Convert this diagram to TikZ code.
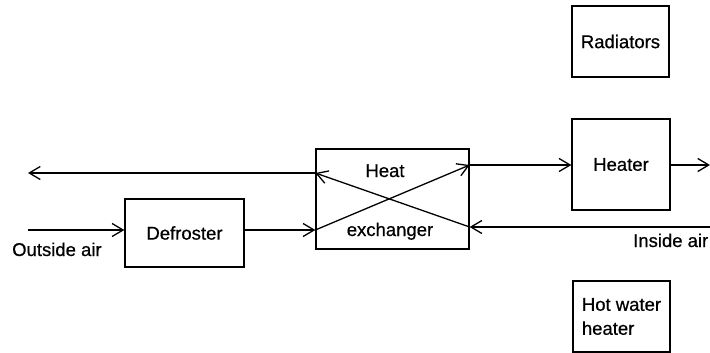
\documentclass[tikz,border=0pt]{standalone}
\usepackage{fontspec}
\setmainfont{Liberation Sans}[FakeBold=0.6]
\usetikzlibrary{arrows.meta}
\begin{document}
\begin{tikzpicture}[x=1pt,y=-1pt,
  txt/.style={font=\fontsize{18.5}{24}\selectfont},
  box/.style={draw, line width=1.3pt, inner sep=0pt, txt},
  lbl/.style={txt, inner sep=0pt, anchor=base},
  flow/.style={line width=1.3pt, -{Straight Barb[length=11pt,width=13pt,line width=1.3pt]}}]
\useasboundingbox (0,0) rectangle (710,353);
% boxes
\node[box, minimum width=97pt, minimum height=71pt] (rad) at (620.5,41.5) {Radiators};
\node[box, minimum width=98pt, minimum height=91pt] (heater) at (621,164.5) {Heater};
\node[box, minimum width=97pt, minimum height=71pt, align=left] (hwh) at (621.5,316.5) {Hot water\\heater};
\node[box, minimum width=119pt, minimum height=68pt] (defro) at (184.5,233) {Defroster};
\node[box, minimum width=153pt, minimum height=100pt] (hx) at (392.5,199) {};
\node[lbl] (heat) at (385,177) {Heat};
\node[lbl] (exch) at (390,236) {exchanger};
% labels
\node[lbl, anchor=base west] (outlbl) at (12,256) {Outside air};
\node[lbl, anchor=base west] (inlbl) at (633,247) {Inside air};
% free ends
\coordinate (oa) at (28,230);
\coordinate (ia) at (710,227);
\coordinate (exh) at (28,173);
\coordinate (sup) at (710,165);
% connectors
\draw[flow] (oa) -- (defro.west |- oa);
\draw[flow] (defro.east |- oa) -- (hx.west |- oa);
\draw[flow] (hx.west |- oa) -- (hx.east |- sup);
\draw[flow] (hx.east |- sup) -- (heater.west |- sup);
\draw[flow] (heater.east |- sup) -- (sup);
\draw[flow] (ia) -- (hx.east |- ia);
\draw[flow] (hx.east |- ia) -- (hx.west |- exh);
\draw[flow] (hx.west |- exh) -- (exh);
\end{tikzpicture}
\end{document}
